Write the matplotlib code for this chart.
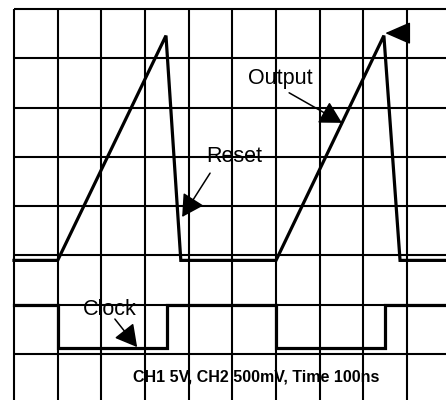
import numpy as np
import matplotlib.pyplot as plt

plt.rcParams['font.family'] = ['Liberation Sans', 'DejaVu Sans']

# scope traces, in grid divisions
out_t = [0.0, 1.0, 3.48, 3.82, 6.0, 8.47, 8.84, 9.9]
out_v = [2.9, 2.9, 7.46, 2.9, 2.9, 7.46, 2.9, 2.9]
clk_t = [0.0, 1.0, 1.0, 3.5, 3.5, 6.0, 6.0, 8.49, 8.49, 9.9]
clk_v = [2.0, 2.0, 1.13, 1.13, 2.0, 2.0, 1.13, 1.13, 2.0, 2.0]

grid_x = np.arange(0, 10)
grid_y = np.arange(1, 9)

fig = plt.figure(figsize=(4.46, 4.0), dpi=100)
ax = fig.add_axes([0, 0, 1, 1])
ax.set_xlim(-14 / 43.67, 432 / 43.67)
ax.set_ylim(8 - 391 / 49.29, 8 + 9 / 49.29)
ax.axis('off')

# grid goes over everything
ax.vlines(grid_x, 0, 8, color='black', lw=1.5, zorder=5)
ax.hlines(grid_y, 0, 10.5, color='black', lw=1.5, zorder=5)

ax.plot(out_t, out_v, color='black', lw=2.3, zorder=3, solid_joinstyle='miter')
ax.plot(clk_t, clk_v, color='black', lw=2.3, zorder=3, solid_joinstyle='miter')

arrow = dict(arrowstyle='-|>,head_length=1.35,head_width=0.75', color='black',
             lw=1.1, shrinkA=0, shrinkB=0)
ax.annotate('', xy=(7.51, 5.69), xytext=(6.30, 6.30), arrowprops=arrow, zorder=4)
ax.annotate('', xy=(3.85, 3.78), xytext=(4.49, 4.67), arrowprops=arrow, zorder=4)
ax.annotate('', xy=(2.82, 1.14), xytext=(2.31, 1.71), arrowprops=arrow, zorder=4)
ax.annotate('', xy=(8.50, 7.51), xytext=(9.0, 7.51),
            arrowprops=dict(arrowstyle='-|>,head_length=1.6,head_width=0.7',
                            color='black', lw=1.1, shrinkA=0, shrinkB=0), zorder=4)

ax.text(6.10, 6.58, 'Output', fontsize=15.5, ha='center', va='center', zorder=1)
ax.text(5.05, 5.0, 'Reset', fontsize=15.5, ha='center', va='center', zorder=1)
ax.text(2.19, 1.91, 'Clock', fontsize=15.5, ha='center', va='center', zorder=1)
ax.text(5.55, 0.53, 'CH1 5V, CH2 500mV, Time 100ns', fontsize=11.5,
        fontweight='bold', ha='center', va='center', zorder=1)

plt.savefig('out.png', dpi=100)
